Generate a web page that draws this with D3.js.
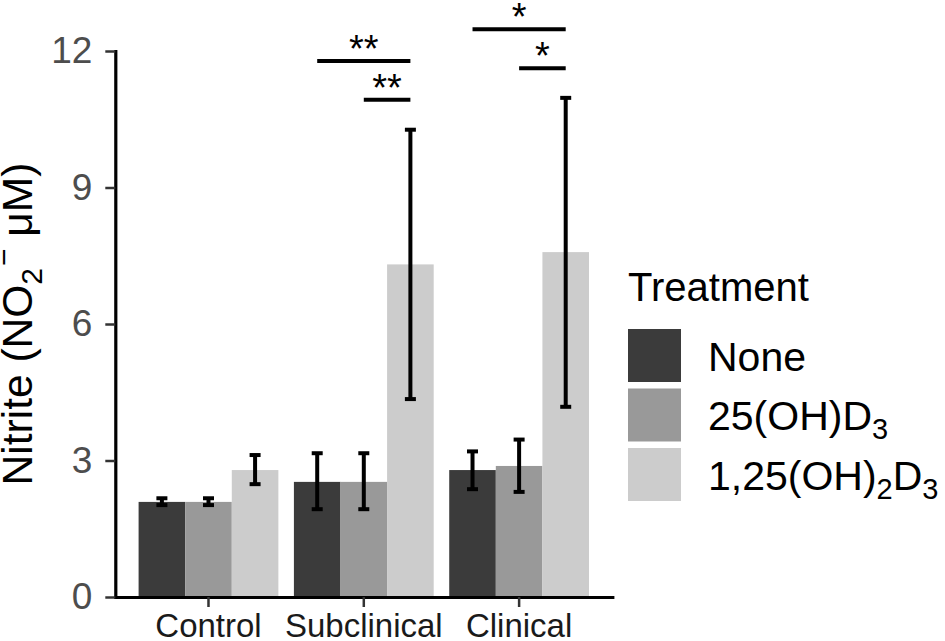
<!DOCTYPE html>
<html lang="en">
<head>
    <meta charset="utf-8">
    <title>Nitrite</title>
    <script type="text/javascript" src="https://d3js.org/d3.v7.min.js"></script>
    <style>
     body { margin: 0; background: white; }
     svg { display: block; font-family: "Liberation Sans", Arial, sans-serif; }
     .axisy text { font-size: 37px; fill: #4d4d4d; }
     .axisx text { font-size: 33px; fill: #1a1a1a; }
     .axisy line, .axisx line { stroke: #333; stroke-width: 2.5; }
     .axisy path, .axisx path { stroke: black; stroke-width: 3.2; stroke-linecap: square; }
    </style>
</head>
<body>
    <div id="bar-chart"></div>
    <script type="text/javascript">
        const width = 945;
        const height = 641;

        // data
        const categories = ["Control", "Subclinical", "Clinical"];
        const treatments = ["None", "25(OH)D3", "1,25(OH)2D3"];
        const yTicks = [0, 3, 6, 9, 12];

        const meanNone = [2.09, 2.53, 2.79];
        const mean25 = [2.09, 2.53, 2.88];
        const mean125 = [2.79, 7.31, 7.58];

        const lowNone = [2.02, 1.93, 2.37];
        const highNone = [2.17, 3.16, 3.20];
        const low25 = [2.02, 1.93, 2.31];
        const high25 = [2.17, 3.16, 3.46];
        const low125 = [2.48, 4.35, 4.18];
        const high125 = [3.12, 10.27, 10.97];

        // significance brackets
        const bracketCats = ["Subclinical", "Subclinical", "Clinical", "Clinical"];
        const bracketFrom = ["None", "25(OH)D3", "None", "25(OH)D3"];
        const bracketTo = ["1,25(OH)2D3", "1,25(OH)2D3", "1,25(OH)2D3", "1,25(OH)2D3"];
        const bracketY = [11.78, 10.93, 12.48, 11.62];
        const bracketLabels = ["**", "**", "*", "*"];

        const means = [meanNone, mean25, mean125];
        const lows = [lowNone, low25, low125];
        const highs = [highNone, high25, high125];

        const rows = [];
        treatments.forEach((t, i) => {
            categories.forEach((c, j) => {
                rows.push({cat: c, treat: t, mean: means[i][j], lo: lows[i][j], hi: highs[i][j]});
            });
        });

        const panelLeft = 115.3, panelRight = 612.3, panelTop = 51, panelBottom = 597;

        const svg = d3.select("#bar-chart")
            .append("svg")
            .attr("width", width)
            .attr("height", height)
            .attr("viewBox", [0, 0, width, height]);

        const yScale = d3.scaleLinear().domain([0, 12]).range([panelBottom, panelTop]);
        const xScale = d3.scaleBand().domain(categories)
            .range([panelLeft, panelRight])
            .paddingInner(0.1).paddingOuter(0.15);
        const xInner = d3.scaleBand().domain(treatments).range([0, xScale.bandwidth()]);
        const color = d3.scaleOrdinal(treatments, ["#3b3b3b", "#999999", "#cccccc"]);

        const barX = (c, t) => xScale(c) + xInner(t);
        const barMid = (c, t) => barX(c, t) + xInner.bandwidth() / 2;

        // bars
        svg.append("g")
                .attr("class", "bars")
            .selectAll("rect")
            .data(rows)
            .enter()
            .append("rect")
                .attr("x", d => barX(d.cat, d.treat))
                .attr("y", d => yScale(d.mean))
                .attr("width", xInner.bandwidth())
                .attr("height", d => yScale(0) - yScale(d.mean))
                .attr("fill", d => color(d.treat));

        // error bars
        const capHalf = 5.5;
        const err = svg.append("g").attr("class", "errorbars")
            .attr("stroke", "black").attr("stroke-width", 4);
        err.selectAll("line.v").data(rows).enter().append("line")
            .attr("class", "v")
            .attr("x1", d => barMid(d.cat, d.treat)).attr("x2", d => barMid(d.cat, d.treat))
            .attr("y1", d => yScale(d.lo)).attr("y2", d => yScale(d.hi));
        err.selectAll("line.top").data(rows).enter().append("line")
            .attr("class", "top")
            .attr("x1", d => barMid(d.cat, d.treat) - capHalf).attr("x2", d => barMid(d.cat, d.treat) + capHalf)
            .attr("y1", d => yScale(d.hi)).attr("y2", d => yScale(d.hi));
        err.selectAll("line.bot").data(rows).enter().append("line")
            .attr("class", "bot")
            .attr("x1", d => barMid(d.cat, d.treat) - capHalf).attr("x2", d => barMid(d.cat, d.treat) + capHalf)
            .attr("y1", d => yScale(d.lo)).attr("y2", d => yScale(d.lo));

        // axes
        const yAxis = d3.axisLeft(yScale).tickValues(yTicks).tickSize(10).tickSizeOuter(0).tickPadding(13);
        const xAxis = d3.axisBottom(xScale).tickSize(10).tickSizeOuter(0).tickPadding(7);

        svg.append("g")
            .attr("class", "axisx")
            .attr("transform", "translate(0," + panelBottom + ")")
            .call(xAxis);

        svg.append("g")
            .attr("class", "axisy")
            .attr("transform", "translate(" + panelLeft + ",0)")
            .call(yAxis);

        svg.selectAll(".axisx, .axisy").attr("font-family", null).attr("font-size", null);

        // y title
        const yTitle = svg.append("text")
            .attr("transform", "translate(32," + ((panelTop + panelBottom) / 2) + ") rotate(-90)")
            .attr("text-anchor", "middle")
            .attr("font-size", 42.5)
            .attr("fill", "black");
        yTitle.append("tspan").text("Nitrite (NO");
        yTitle.append("tspan").attr("font-size", 30).attr("dy", 10).text("2");
        yTitle.append("tspan").attr("font-size", 30).attr("dy", -28).attr("dx", 2).text("\u2212");
        yTitle.append("tspan").attr("dy", 18).text(" \u03bcM)");

        // significance brackets
        const sig = svg.append("g").attr("class", "sig");
        bracketLabels.forEach((lab, i) => {
            const xa = barMid(bracketCats[i], bracketFrom[i]);
            const xb = barMid(bracketCats[i], bracketTo[i]);
            const yy = yScale(bracketY[i]);
            sig.append("line")
                .attr("x1", xa).attr("x2", xb)
                .attr("y1", yy).attr("y2", yy)
                .attr("stroke", "black").attr("stroke-width", 4);
            sig.append("text")
                .attr("x", (xa + xb) / 2).attr("y", yy + 1)
                .attr("text-anchor", "middle")
                .attr("font-size", 38)
                .text(lab);
        });

        // legend
        const legendX = 628, keySize = 53, keyStep = 59.5, keyTop = 329;
        const legend = svg.append("g").attr("class", "legend");
        legend.append("text")
            .attr("x", legendX).attr("y", 300.5)
            .attr("font-size", 40)
            .text("Treatment");

        const legendParts = {
            "None": [["None", 0]],
            "25(OH)D3": [["25(OH)D", 0], ["3", 1]],
            "1,25(OH)2D3": [["1,25(OH)", 0], ["2", 1], ["D", 0], ["3", 1]]
        };

        treatments.forEach((t, i) => {
            const top = keyTop + i * keyStep;
            legend.append("rect")
                .attr("x", legendX).attr("y", top)
                .attr("width", keySize).attr("height", keySize)
                .attr("fill", color(t));
            const lab = legend.append("text")
                .attr("x", 708).attr("y", top + keySize / 2 + 15)
                .attr("font-size", 41);
            let shifted = false;
            legendParts[t].forEach(([s, sub]) => {
                const sp = lab.append("tspan").text(s);
                if (sub && !shifted) { sp.attr("font-size", 29).attr("dy", 9); shifted = true; }
                else if (!sub && shifted) { sp.attr("dy", -9); shifted = false; }
            });
        });
    </script>
</body>
</html>
